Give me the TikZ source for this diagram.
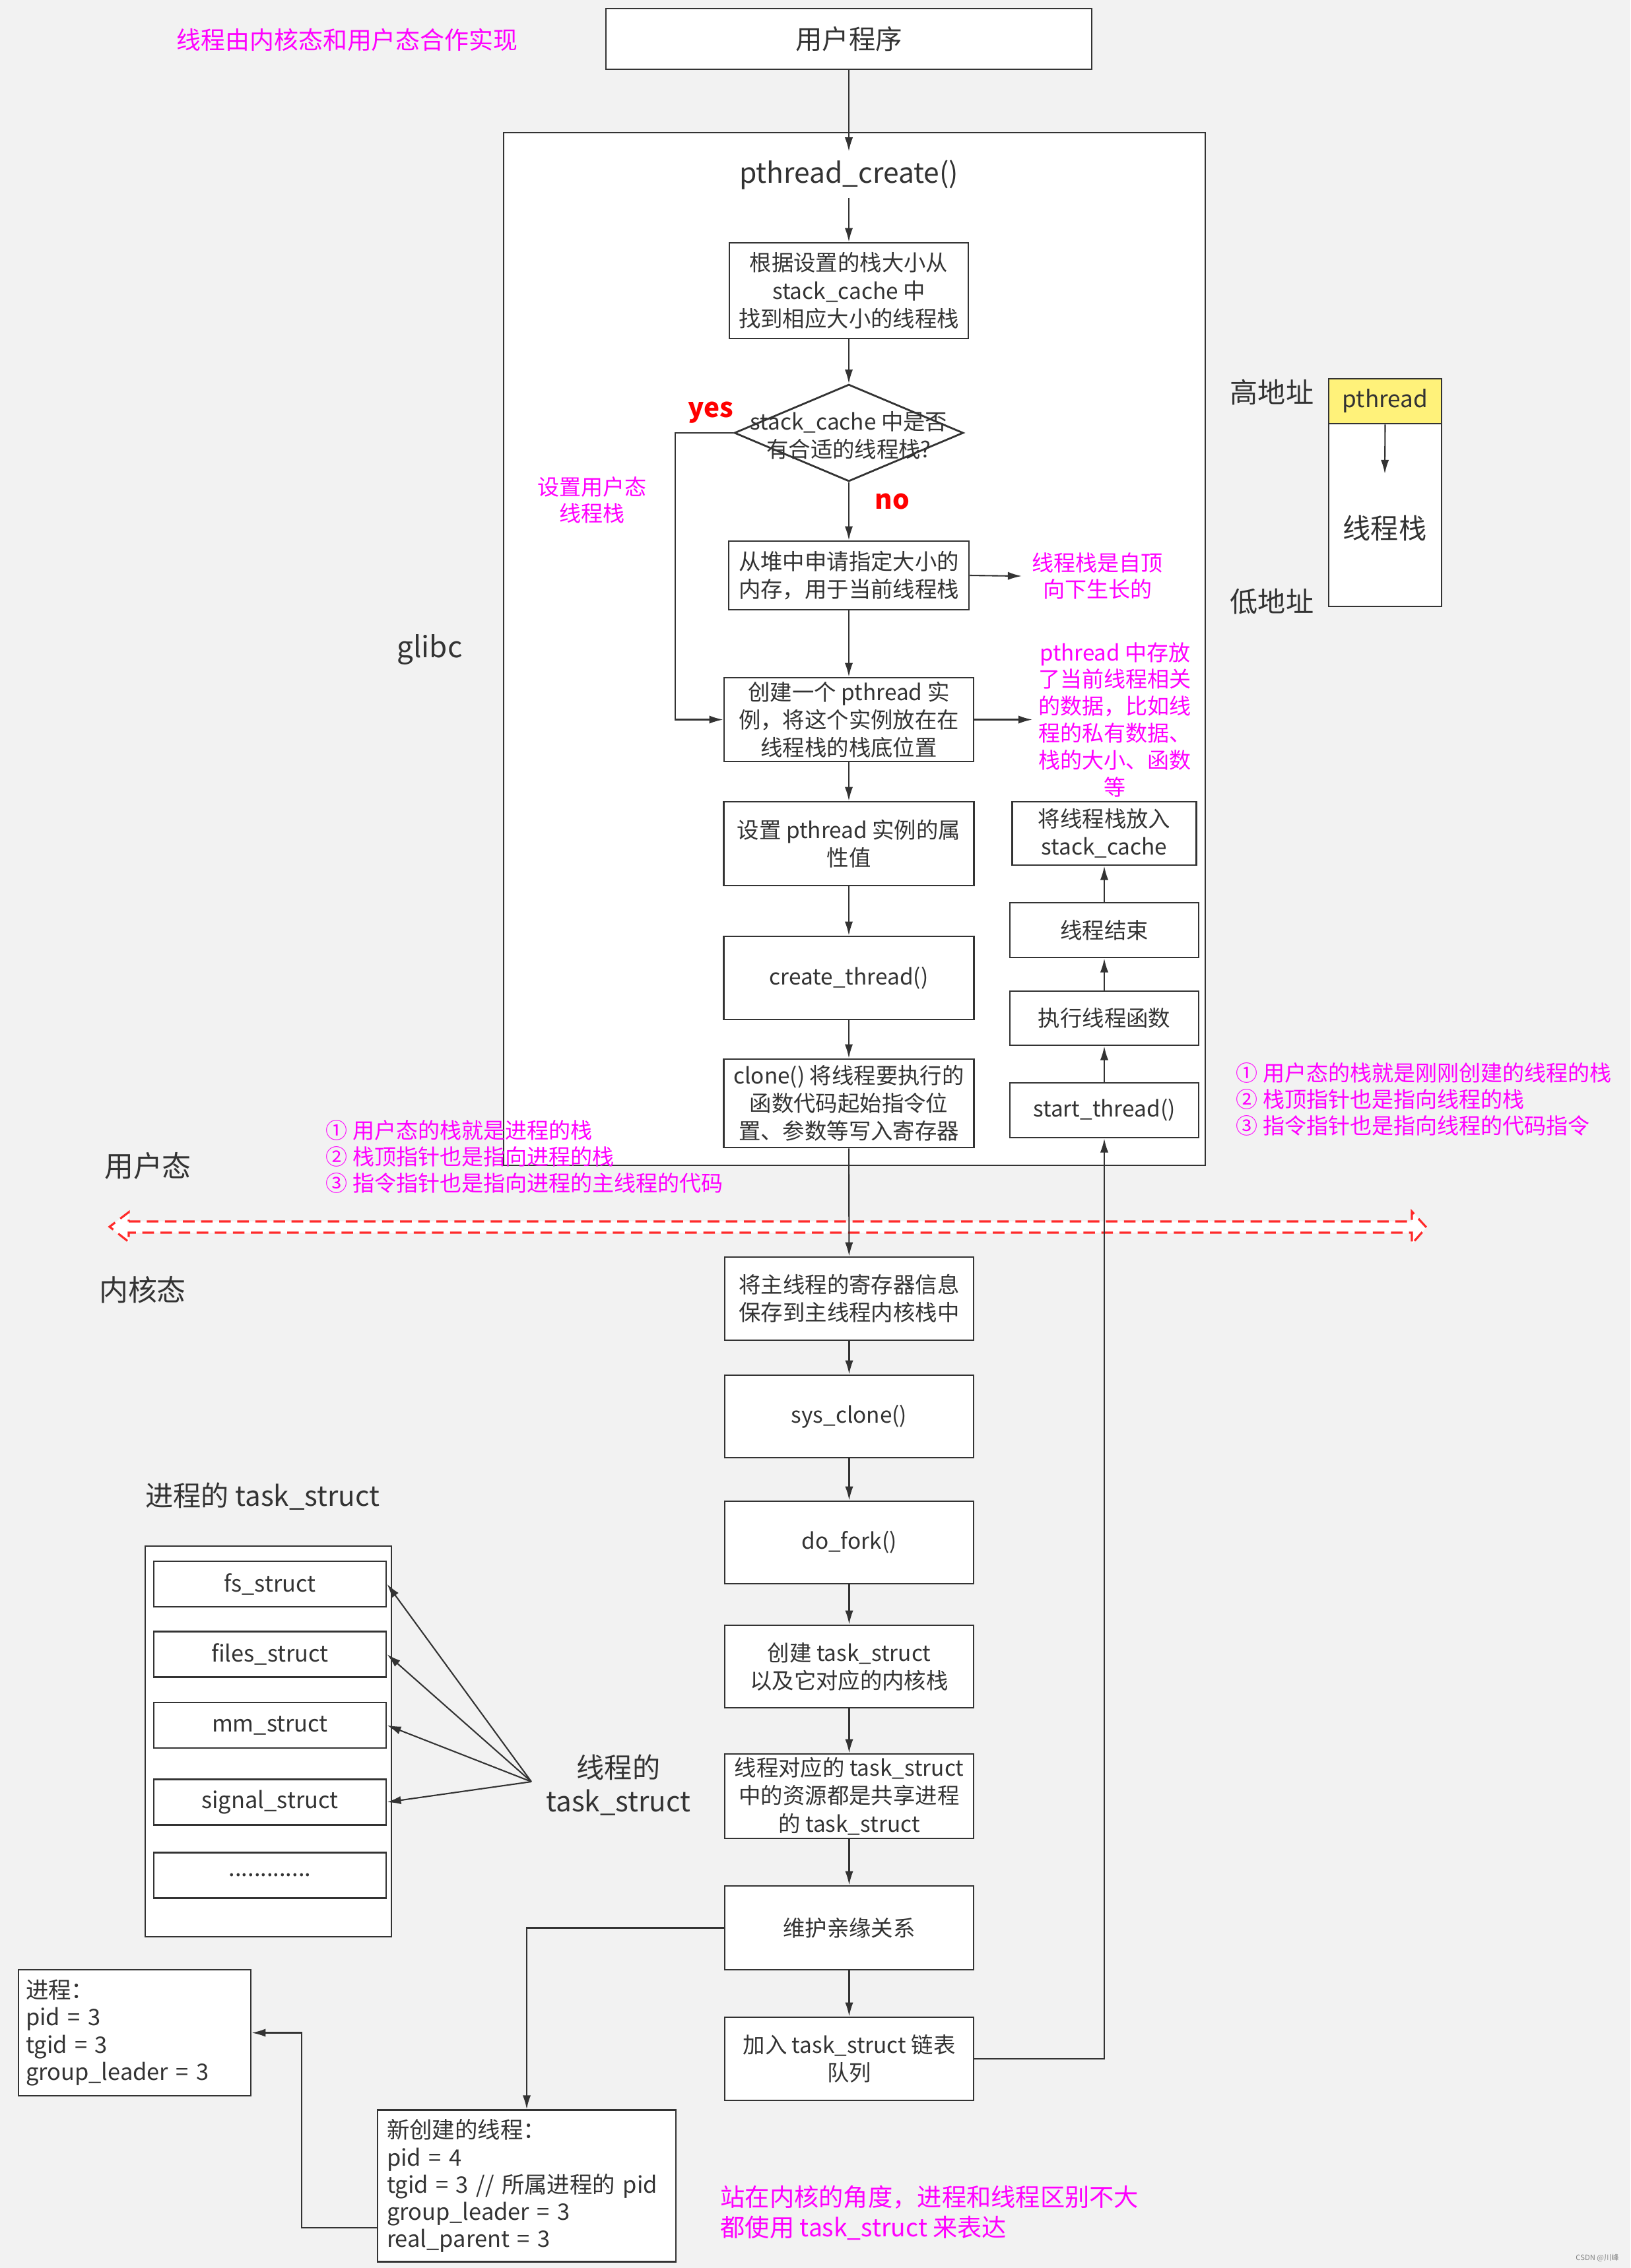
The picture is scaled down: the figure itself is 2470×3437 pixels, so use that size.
\documentclass[tikz,border=0pt]{standalone}
\usepackage{fontspec}
\setmainfont{Noto Sans CJK SC}
\usetikzlibrary{arrows.meta,shapes.geometric}
\definecolor{ink}{HTML}{333333}
\definecolor{mag}{HTML}{FF00FF}
\definecolor{bg}{HTML}{F2F2F2}
\definecolor{hot}{HTML}{FF2A2A}
\definecolor{pale}{HTML}{FFF27A}
\newcommand{\fs}[2]{\fontsize{#1}{#2}\selectfont}
\newcommand{\dotrow}{.............}
\tikzset{
  box/.style={draw=ink, fill=white, line width=0.8pt, align=center, inner sep=0pt, text=ink, font=\fs{9.5}{12}},
  tag/.style={text=mag, font=\fs{9.4}{11.5}, inner sep=0pt},
  lbl/.style={text=ink, font=\fs{12.5}{15}, inner sep=0pt},
  arr/.style={draw=ink, line width=0.6pt, -{Latex[length=6pt,width=3.5pt]}},
}
\begin{document}
\begin{tikzpicture}[x=0.1mm,y=-0.1mm]
\fill[bg] (0,0) rectangle (2470,3437);
\useasboundingbox (0,0) rectangle (2470,3437);

% glibc frame
\draw[draw=ink, line width=0.8pt, fill=white] (763,201) rectangle (1826,1766);
% user/kernel border
\draw[hot, line width=0.9pt, dash pattern=on 5pt off 2.8pt, fill=white]
  (195,1851) -- (2139,1851) -- (2139,1836) -- (2161,1860) -- (2139,1885) -- (2139,1868)
  -- (195,1868) -- (195,1882) -- (166,1859) -- (195,1837) -- cycle;

\node[tag, font=\fs{10.5}{13}] (title) at (526,60) {线程由内核态和用户态合作实现};
\node[box, minimum width=73.6mm, minimum height=9.2mm, font=\fs{11.5}{14}] (prog) at (1286,59) {用户程序};
\node[lbl] (glibc) at (651,984) {glibc};
\node[text=ink, font=\fs{12.1}{15}, minimum height=6.9mm, inner sep=0pt] (pc) at (1286,264.5) {pthread\_create()};
\node[box, minimum width=36.2mm, minimum height=14.5mm] (find) at (1286,440.5) {根据设置的栈大小从\\stack\_cache 中\\找到相应大小的线程栈};
\node[diamond, draw=ink, fill=white, line width=0.8pt, minimum width=34.7mm, minimum height=14.7mm, inner sep=0pt] (chk) at (1286,656) {};
\node[text=ink, font=\fs{9.5}{12}, align=center, inner sep=0pt] (chktxt) at (1286,660) {stack\_cache 中是否\\有合适的线程栈?};
\node[text=red, font=\fs{11.5}{14}\bfseries, inner sep=0pt] (yes) at (1077,625) {yes};
\node[text=red, font=\fs{11.5}{14}\bfseries, inner sep=0pt] (no) at (1352,760) {no};
\node[tag, align=center] (ustk) at (897,758) {设置用户态\\线程栈};
\node[box, minimum width=36.4mm, minimum height=10.4mm] (heap) at (1286,872) {从堆中申请指定大小的\\内存，用于当前线程栈};
\node[tag, align=center, anchor=west, inner sep=1.5mm] (grow) at (1548,873) {线程栈是自顶\\向下生长的};
\node[box, minimum width=37.8mm, minimum height=12.7mm] (inst) at (1286,1090.5) {创建一个 pthread 实\\例，将这个实例放在在\\线程栈的栈底位置};
\node[tag, align=center, anchor=west, inner sep=0.9mm, font=\fs{9.4}{11.6}] (data) at (1564,1090.5) {pthread 中存放\\了当前线程相关\\的数据，比如线\\程的私有数据、\\栈的大小、函数\\等};
\node[box, minimum width=37.9mm, minimum height=12.7mm] (attr) at (1286,1278.5) {设置 pthread 实例的属\\性值};
\node[box, minimum width=37.9mm, minimum height=12.6mm] (cth) at (1286,1482) {create\_thread()};
\node[box, minimum width=37.9mm, minimum height=13.4mm] (clone) at (1286,1672) {clone() 将线程要执行的\\函数代码起始指令位\\置、参数等写入寄存器};

% thread side, bottom-up
\node[box, minimum width=27.9mm, minimum height=9.6mm] (cache) at (1673,1263) {将线程栈放入\\stack\_cache};
\node[box, minimum width=28.6mm, minimum height=8.3mm] (fin) at (1673,1409.5) {线程结束};
\node[box, minimum width=28.6mm, minimum height=8.2mm] (run) at (1673,1543) {执行线程函数};
\node[box, minimum width=28.6mm, minimum height=8.3mm] (start) at (1673,1682.5) {start\_thread()};

% stack picture
\node[lbl, font=\fs{12}{14}] (hi) at (1927,594) {高地址};
\node[lbl, font=\fs{12}{14}] (lo) at (1927,912) {低地址};
\node[box, minimum width=17.1mm, minimum height=34.5mm] (stk) at (2098.5,746.5) {};
\node[box, fill=pale, minimum width=17.1mm, minimum height=6.8mm, anchor=north, font=\fs{10}{12}] (pth) at (stk.north) {pthread};
\node[lbl, font=\fs{12}{14}] (stktxt) at (2098,800) {线程栈};
\coordinate (growend) at (2098,718);

\node[tag, align=left, anchor=west] (procnote) at (493,1753) {① 用户态的栈就是进程的栈\\② 栈顶指针也是指向进程的栈\\③ 指令指针也是指向进程的主线程的代码};
\node[tag, align=left, anchor=west] (thrnote) at (1872,1666) {① 用户态的栈就是刚刚创建的线程的栈\\② 栈顶指针也是指向线程的栈\\③ 指令指针也是指向线程的代码指令};
\node[lbl] (user) at (224,1767) {用户态};
\node[lbl] (kern) at (216,1955) {内核态};

% kernel side
\node[box, minimum width=37.7mm, minimum height=12.6mm] (save) at (1286.5,1968) {将主线程的寄存器信息\\保存到主线程内核栈中};
\node[box, minimum width=37.7mm, minimum height=12.5mm] (sysc) at (1286.5,2146.5) {sys\_clone()};
\node[box, minimum width=37.7mm, minimum height=12.5mm] (fork) at (1286.5,2337.5) {do\_fork()};
\node[box, minimum width=37.7mm, minimum height=12.5mm] (mktask) at (1286.5,2525.5) {创建 task\_struct\\以及它对应的内核栈};
\node[box, minimum width=37.7mm, minimum height=12.8mm] (share) at (1286.5,2722) {线程对应的 task\_struct\\中的资源都是共享进程\\的 task\_struct};
\node[box, minimum width=37.7mm, minimum height=12.7mm] (kin) at (1286.5,2921.5) {维护亲缘关系};
\node[box, minimum width=37.7mm, minimum height=12.6mm] (join) at (1286.5,3120) {加入 task\_struct 链表\\队列};

% process task_struct
\node[lbl, font=\fs{12}{14}] (tsktitle) at (398,2268) {进程的 task\_struct};
\node[box, minimum width=37.3mm, minimum height=59.2mm] (tsk) at (406.5,2639) {};
\foreach \nm/\yy/\txt in {fss/2400.5/fs\_struct, files/2507/files\_struct, mms/2614.5/mm\_struct, sigs/2731/signal\_struct, more/2842/\dotrow}
  \node[box, minimum width=35.2mm, minimum height=6.9mm, font=\fs{9.8}{12}] (\nm) at (409,\yy) {\txt};
\node[lbl, font=\fs{12}{14.5}, align=center] (thrtxt) at (937,2705) {线程的\\task\_struct};
\coordinate (thr) at (805,2700);

\node[box, align=left, text width=33mm, inner sep=1.1mm, minimum height=19.1mm, font=\fs{9.8}{11.7}] (proc) at (204,3080.5) {进程：\\pid = 3\\tgid = 3\\group\_leader = 3};
\node[box, align=left, text width=42.4mm, inner sep=1.4mm, minimum height=22.3mm, font=\fs{9.8}{11.7}] (thread) at (798,3312.5) {新创建的线程：\\pid = 4\\tgid = 3 // 所属进程的 pid\\group\_leader = 3\\real\_parent = 3};
\node[tag, align=left, anchor=west, font=\fs{10.6}{13}] (kernnote) at (1091,3353) {站在内核的角度，进程和线程区别不大\\都使用 task\_struct 来表达};
\node[text=gray, font=\fs{3.2}{4}, inner sep=0pt] (mark) at (2420,3422) {CSDN @川峰};

% connectors
\draw[arr] (prog) -- (pc);
\draw[arr] (pc) -- (find);
\draw[arr] (find) -- (chk);
\draw[arr] (chk) -- (heap);
\coordinate (yesbend) at (1023,656);
\draw[arr] (chk.west) -- (yesbend) |- (inst.west);
\draw[arr] (heap.east) -- (grow.west);
\draw[arr] (heap) -- (inst);
\draw[arr] (inst.east) -- (data.west);
\draw[arr] (inst) -- (attr);
\draw[arr] (attr) -- (cth);
\draw[arr] (cth) -- (clone);
\draw[arr] (pth.south) -- (growend);
\draw[arr] (start) -- (run);
\draw[arr] (run) -- (fin);
\draw[arr] (fin) -- (cache);
\draw[arr] (clone) -- (save);
\draw[arr] (save) -- (sysc);
\draw[arr] (sysc) -- (fork);
\draw[arr] (fork) -- (mktask);
\draw[arr] (mktask) -- (share);
\draw[arr] (share) -- (kin);
\draw[arr] (kin) -- (join);
\draw[arr] (join.east) -| (start.south);
\draw[arr] (kin.west) -| (thread.north);
\coordinate (procbend) at (457,3080.5);
\draw[arr] ([yshift=-6.35mm]thread.west) -| (procbend) -- (proc.east);
\foreach \t in {fss,files,mms,sigs}
  \draw[arr] (thr) -- (\t.east);
\end{tikzpicture}
\end{document}
